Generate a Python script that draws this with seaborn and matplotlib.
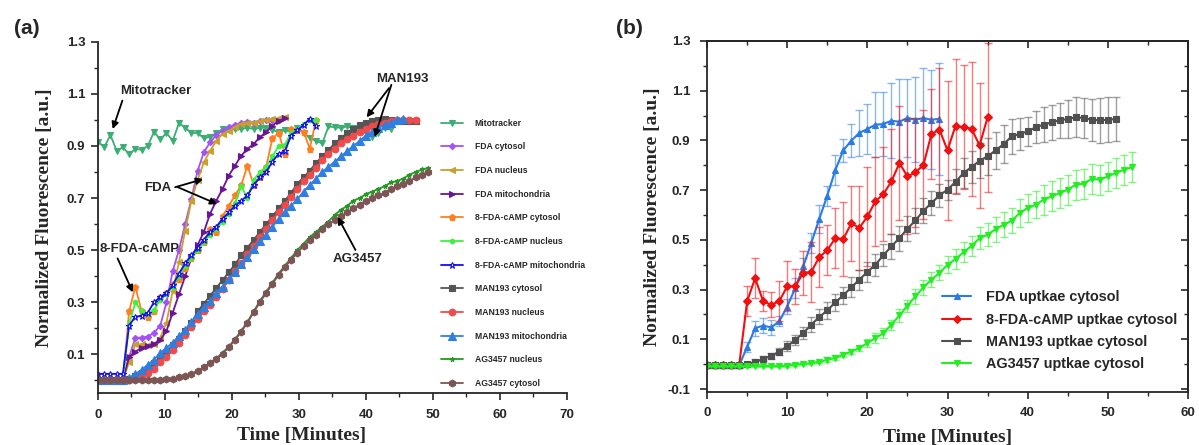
import numpy as np
import pandas as pd
import matplotlib
matplotlib.use("Agg")
import matplotlib.pyplot as plt
from matplotlib.ticker import FixedLocator
import seaborn as sns

# ---------------- data: panel (a) ----------------
LEFT_DT = 0.93  # minutes between frames in panel (a)
mitotracker = [0.917, 0.895, 0.942, 0.882, 0.895, 0.869, 0.888, 0.886, 0.90, 0.955,
               0.925, 0.95, 0.92, 0.988, 0.97, 0.95, 0.95, 0.93, 0.935, 0.95,
               0.965, 0.96, 0.965, 0.965, 0.97, 0.965, 0.97, 0.97, 0.96, 0.955,
               0.96, 0.955, 0.97, 0.95, 0.93, 0.92, 0.91, 0.975, 0.972, 0.97,
               0.975, 0.968, 0.96, 0.95, 0.935, 0.95, 0.97, 0.965]
fda_cytosol = [0, 0, 0, 0, 0, 0.09, 0.164, 0.164, 0.168, 0.183, 0.21, 0.30, 0.42, 0.50,
               0.60, 0.696, 0.805, 0.876, 0.914, 0.942, 0.959, 0.972, 0.981, 0.988,
               0.993, 0.99, 0.997, 1.0, 0.998, 1.0]
fda_nucleus = [0, 0, 0, 0, 0, 0.07, 0.138, 0.138, 0.135, 0.138, 0.164, 0.222, 0.343,
               0.453, 0.575, 0.69, 0.77, 0.837, 0.882, 0.92, 0.946, 0.956, 0.972,
               0.985, 0.99, 0.99, 0.997, 1.0, 1.003, 1.006, 1.01]
fda_mito = [0, 0, 0, 0, 0, 0.09, 0.11, 0.125, 0.133, 0.14, 0.155, 0.19, 0.26, 0.33,
            0.40, 0.47, 0.52, 0.57, 0.64, 0.69, 0.735, 0.786, 0.825, 0.863, 0.889,
            0.908, 0.934, 0.953, 0.978, 0.997, 1.006]
cfda_cytosol = [0, 0, 0, 0, 0, 0.265, 0.36, 0.265, 0.245, 0.265, 0.32, 0.335, 0.37,
                0.39, 0.43, 0.47, 0.50, 0.53, 0.58, 0.57, 0.63, 0.67, 0.71, 0.75,
                0.825, 0.75, 0.78, 0.82, 0.93, 0.95, 0.87, 0.965, 0.96, 0.955, 0.89, 1.0]
cfda_nucleus = [0, 0, 0, 0, 0, 0.215, 0.30, 0.265, 0.255, 0.27, 0.31, 0.33, 0.36, 0.40,
                0.44, 0.47, 0.50, 0.53, 0.56, 0.58, 0.61, 0.64, 0.68, 0.745, 0.70,
                0.77, 0.80, 0.82, 0.86, 0.90, 0.905, 0.95, 0.965, 0.985, 1.0, 1.0]
cfda_mito = [0.025, 0.025, 0.025, 0.025, 0.025, 0.21, 0.245, 0.247, 0.26, 0.30, 0.32,
             0.335, 0.365, 0.41, 0.45, 0.48, 0.51, 0.54, 0.57, 0.59, 0.62, 0.645,
             0.67, 0.69, 0.71, 0.75, 0.78, 0.80, 0.84, 0.87, 0.88, 0.94, 0.96, 0.98,
             1.005, 0.975]
man_cytosol = [0, 0, 0, 0, 0, 0.005, 0.015, 0.03, 0.045, 0.065, 0.09, 0.11, 0.135, 0.16,
               0.19, 0.22, 0.265, 0.295, 0.325, 0.355, 0.385, 0.415, 0.445, 0.48, 0.51,
               0.54, 0.57, 0.60, 0.63, 0.66, 0.69, 0.72, 0.755, 0.78, 0.805, 0.835,
               0.86, 0.885, 0.91, 0.93, 0.95, 0.965, 0.98, 0.99, 0.995, 1.0, 1.005,
               1.0, 0.995, 0.995, 0.995, 0.995]
man_nucleus = [0, 0, 0, 0, 0, 0, 0.005, 0.015, 0.03, 0.045, 0.07, 0.09, 0.115, 0.145,
               0.175, 0.205, 0.235, 0.265, 0.29, 0.32, 0.35, 0.385, 0.42, 0.45, 0.485,
               0.515, 0.55, 0.58, 0.615, 0.645, 0.675, 0.705, 0.735, 0.765, 0.79,
               0.815, 0.845, 0.87, 0.89, 0.91, 0.925, 0.94, 0.955, 0.965, 0.975,
               0.985, 0.99, 0.995, 1.0, 1.0, 1.0, 1.0]
man_mito = [0, 0, 0, 0, 0, 0.01, 0.025, 0.04, 0.06, 0.08, 0.105, 0.125, 0.145, 0.17,
            0.195, 0.225, 0.255, 0.28, 0.305, 0.335, 0.36, 0.39, 0.415, 0.445, 0.475,
            0.505, 0.535, 0.56, 0.59, 0.62, 0.645, 0.67, 0.695, 0.725, 0.75, 0.775,
            0.80, 0.82, 0.84, 0.86, 0.88, 0.90, 0.92, 0.94, 0.955, 0.97, 0.98, 0.99,
            1.0, 1.005]
ag_nucleus = [0, 0, 0, 0, 0, 0, 0, 0, 0, 0, 0.003, 0.005, 0.007, 0.011, 0.017, 0.025,
              0.036, 0.05, 0.068, 0.085, 0.106, 0.13, 0.158, 0.19, 0.225, 0.265, 0.305,
              0.34, 0.375, 0.41, 0.44, 0.47, 0.50, 0.525, 0.55, 0.57, 0.59, 0.61,
              0.635, 0.655, 0.67, 0.69, 0.70, 0.715, 0.725, 0.735, 0.745, 0.76,
              0.765, 0.775, 0.79, 0.80, 0.81, 0.815]
ag_cytosol = [0, 0, 0, 0, 0, 0, 0, 0, 0, 0, 0.003, 0.005, 0.007, 0.011, 0.017, 0.025,
              0.036, 0.05, 0.066, 0.083, 0.103, 0.127, 0.155, 0.187, 0.222, 0.262,
              0.30, 0.335, 0.37, 0.405, 0.435, 0.463, 0.49, 0.515, 0.538, 0.56, 0.58,
              0.60, 0.615, 0.63, 0.645, 0.66, 0.675, 0.69, 0.70, 0.71, 0.72, 0.735,
              0.745, 0.755, 0.765, 0.78, 0.79, 0.80]

# ---------------- data: panel (b) ----------------
fda_up = [-0.005, -0.005, -0.005, -0.005, -0.005, 0.069, 0.145, 0.155, 0.148, 0.172,
          0.232, 0.306, 0.393, 0.487, 0.584, 0.678, 0.78, 0.86, 0.899, 0.93, 0.946,
          0.963, 0.966, 0.979, 0.975, 0.991, 0.983, 0.99, 0.983, 0.987]
fda_up_err = [0.01, 0.01, 0.01, 0.01, 0.01, 0.02, 0.03, 0.03, 0.03, 0.02, 0.03, 0.04,
              0.035, 0.04, 0.055, 0.04, 0.06, 0.045, 0.067, 0.094, 0.10, 0.13, 0.13,
              0.15, 0.17, 0.156, 0.17, 0.20, 0.20, 0.225]
cfda_up = [-0.005, -0.005, -0.005, -0.005, -0.005, 0.253, 0.346, 0.253, 0.239, 0.253,
           0.313, 0.313, 0.367, 0.371, 0.431, 0.458, 0.507, 0.503, 0.567, 0.548, 0.594,
           0.655, 0.684, 0.735, 0.809, 0.755, 0.771, 0.802, 0.926, 0.943, 0.86, 0.959,
           0.953, 0.947, 0.88, 0.993]
cfda_up_err = [0.01, 0.01, 0.01, 0.01, 0.01, 0.06, 0.08, 0.04, 0.05, 0.08, 0.10, 0.07,
               0.09, 0.12, 0.12, 0.10, 0.12, 0.15, 0.15, 0.17, 0.20, 0.18, 0.19, 0.21,
               0.23, 0.23, 0.22, 0.22, 0.18, 0.25, 0.28, 0.27, 0.25, 0.27, 0.25, 0.30]
man_up = [-0.005, -0.005, -0.005, -0.005, -0.005, 0.001, 0.009, 0.021, 0.034, 0.05,
          0.072, 0.098, 0.125, 0.159, 0.19, 0.216, 0.249, 0.277, 0.309, 0.34, 0.371,
          0.40, 0.438, 0.474, 0.507, 0.545, 0.578, 0.617, 0.648, 0.679, 0.702, 0.733,
          0.769, 0.793, 0.818, 0.836, 0.86, 0.885, 0.916, 0.926, 0.936, 0.953, 0.963,
          0.973, 0.981, 0.986, 0.993, 0.99, 0.983, 0.981, 0.983, 0.986]
man_up_err = [0.005, 0.005, 0.005, 0.005, 0.005, 0.005, 0.01, 0.01, 0.012, 0.015,
              0.02, 0.02, 0.025, 0.03, 0.03, 0.035, 0.035, 0.035, 0.04, 0.04, 0.04,
              0.045, 0.045, 0.05, 0.05, 0.05, 0.05, 0.05, 0.05, 0.045, 0.04, 0.05,
              0.06, 0.065, 0.07, 0.075, 0.075, 0.075, 0.07, 0.065, 0.06, 0.065, 0.07,
              0.07, 0.07, 0.075, 0.08, 0.08, 0.085, 0.09, 0.09, 0.09]
ag_up = [-0.008, -0.008, -0.008, -0.008, -0.008, -0.008, -0.008, -0.008, -0.008, -0.008,
         -0.006, -0.002, 0.001, 0.004, 0.009, 0.018, 0.025, 0.038, 0.051, 0.065, 0.085,
         0.105, 0.125, 0.159, 0.196, 0.235, 0.273, 0.309, 0.34, 0.367, 0.40, 0.423,
         0.45, 0.476, 0.507, 0.521, 0.543, 0.561, 0.577, 0.608, 0.628, 0.641, 0.662,
         0.675, 0.688, 0.702, 0.722, 0.726, 0.746, 0.742, 0.755, 0.769, 0.782, 0.792]
ag_up_err = [0.005, 0.005, 0.005, 0.005, 0.005, 0.005, 0.005, 0.005, 0.005, 0.005,
             0.005, 0.005, 0.005, 0.005, 0.005, 0.01, 0.01, 0.01, 0.01, 0.01, 0.015,
             0.02, 0.02, 0.02, 0.025, 0.025, 0.03, 0.03, 0.03, 0.03, 0.035, 0.04, 0.04,
             0.04, 0.045, 0.045, 0.05, 0.05, 0.05, 0.055, 0.055, 0.055, 0.06, 0.06,
             0.06, 0.06, 0.06, 0.06, 0.06, 0.06, 0.06, 0.06, 0.06, 0.06]

left_series = [
    ("Mitotracker", mitotracker, "#3CAE74", "v", 4.5, None),
    ("FDA cytosol", fda_cytosol, "#A452F5", "D", 3.2, None),
    ("FDA nucleus", fda_nucleus, "#C9A02C", "<", 4.0, None),
    ("FDA mitochondria", fda_mito, "#6A1596", ">", 4.0, None),
    ("8-FDA-cAMP cytosol", cfda_cytosol, "#FF7F20", "p", 4.5, None),
    ("8-FDA-cAMP nucleus", cfda_nucleus, "#3CF23C", "h", 3.5, None),
    ("8-FDA-cAMP mitochondria", cfda_mito, "#1010F0", "*", 5.0, "white"),
    ("MAN193 cytosol", man_cytosol, "#555555", "s", 4.5, None),
    ("MAN193 nucleus", man_nucleus, "#F04A4A", "o", 4.8, None),
    ("MAN193 mitochondria", man_mito, "#2F7FE0", "^", 5.2, None),
    ("AG3457 nucleus", ag_nucleus, "#229A22", "*", 3.5, None),
    ("AG3457 cytosol", ag_cytosol, "#7D5555", "h", 5.0, None),
]
right_series = [
    ("FDA uptkae cytosol", fda_up, fda_up_err, "#2C7BE5", "^", 4.5),
    ("8-FDA-cAMP uptkae cytosol", cfda_up, cfda_up_err, "#F01010", "D", 3.6),
    ("MAN193 uptkae cytosol", man_up, man_up_err, "#505050", "s", 4.0),
    ("AG3457 uptkae cytosol", ag_up, ag_up_err, "#22EE22", "v", 4.5),
]

sns.set_style("ticks")
plt.rcParams["font.family"] = ["Liberation Sans", "DejaVu Sans"]
plt.rcParams["font.weight"] = "bold"

fig = plt.figure(figsize=(11.99, 4.45), dpi=100)
axL = fig.add_axes([0.0817, 0.116, 0.3911, 0.790])
axR = fig.add_axes([0.5897, 0.119, 0.4011, 0.789])

# ---- panel (a)
for name, vals, col, mk, ms, mfc in left_series:
    df = pd.DataFrame({"t": np.arange(len(vals)) * LEFT_DT, "v": vals})
    kw = dict(marker=mk, markersize=ms, markeredgecolor=col, markeredgewidth=0.8,
              color=col, linewidth=1.3, label=name)
    if mfc:
        kw["markerfacecolor"] = mfc
    sns.lineplot(data=df, x="t", y="v", ax=axL, **kw)

axL.set_xlim(0, 70)
axL.set_ylim(-0.05, 1.3)
axL.set_xticks(np.arange(0, 71, 10))
axL.set_xticks(np.arange(5, 70, 10), minor=True)
axL.set_yticks([0.1, 0.3, 0.5, 0.7, 0.9, 1.1, 1.3])
axL.set_yticks([0.0, 0.2, 0.4, 0.6, 0.8, 1.0, 1.2], minor=True)
axL.set_yticklabels(["0.1", "0.3", "0.5", "0.7", "0.9", "1.1", "1.3"])
for s in ["top", "right"]:
    axL.spines[s].set_visible(False)

axL.legend(loc="upper left", bbox_to_anchor=(0.731, 0.781), frameon=False,
           prop={"family": "Liberation Sans", "weight": "bold", "size": 6.2},
           labelspacing=1.70, handlelength=2.55, handletextpad=1.4,
           borderaxespad=0, borderpad=0)

ann = dict(fontsize=9.5, fontweight="bold", ha="center", va="center")
arr = dict(arrowstyle="-|>", color="black", lw=1.3, mutation_scale=10, shrinkA=0, shrinkB=0)
axL.annotate("Mitotracker", xy=(2.2, 0.965), xytext=(8.6, 1.11), arrowprops=dict(arr, relpos=(0.05, 0.0)), **ann)
axL.annotate("FDA", xy=(15.7, 0.773), xytext=(9.0, 0.738), arrowprops=dict(arr, relpos=(1.0, 0.5)), **ann)
axL.annotate("", xy=(17.8, 0.677), xytext=(11.9, 0.742), arrowprops=arr)
axL.annotate("8-FDA-cAMP", xy=(5.2, 0.338), xytext=(6.3, 0.504), arrowprops=dict(arr, relpos=(0.2, 0.0)), **ann)
axL.annotate("MAN193", xy=(40.1, 1.01), xytext=(45.4, 1.158), arrowprops=dict(arr, relpos=(0.3, 0.0)), **ann)
axL.annotate("", xy=(41.3, 0.935), xytext=(43.8, 1.135), arrowprops=arr)
axL.annotate("AG3457", xy=(35.8, 0.627), xytext=(38.7, 0.465), arrowprops=dict(arr, relpos=(0.5, 1.0)), **ann)

# ---- panel (b)
for name, vals, err, col, mk, ms in right_series:
    t = np.arange(len(vals))
    axR.errorbar(t, vals, yerr=err, fmt="none", ecolor=col, alpha=0.55,
                 elinewidth=1.0, capsize=3, capthick=1.0)
    df = pd.DataFrame({"t": t, "v": vals})
    sns.lineplot(data=df, x="t", y="v", ax=axR, marker=mk, markersize=ms,
                 markeredgecolor=col, markeredgewidth=0.8, color=col,
                 linewidth=1.5, label=name)

axR.set_xlim(0, 60)
axR.set_ylim(-0.112, 1.3)
xmaj, xmin = np.arange(0, 61, 10), np.arange(5, 60, 10)
ymaj = [-0.1, 0.1, 0.3, 0.5, 0.7, 0.9, 1.1, 1.3]
ymin = [0.0, 0.2, 0.4, 0.6, 0.8, 1.0, 1.2]
axR.set_xticks(xmaj)
axR.set_xticks(xmin, minor=True)
axR.set_yticks(ymaj)
axR.set_yticks(ymin, minor=True)
axR.set_yticklabels(["-0.1", "0.1", "0.3", "0.5", "0.7", "0.9", "1.1", "1.3"])
axR.legend(loc="upper left", bbox_to_anchor=(0.489, 0.29), frameon=False,
           prop={"family": "Liberation Sans", "weight": "bold", "size": 10.4},
           labelspacing=0.58, handlelength=2.0, handletextpad=1.0,
           borderaxespad=0, borderpad=0)

# mirrored ticks pointing inward on top/right of panel (b)
secx = axR.secondary_xaxis("top")
secx.set_xticks(xmaj)
secx.xaxis.set_minor_locator(FixedLocator(xmin))
secx.tick_params(which="major", direction="in", length=5, width=1.2, labeltop=False)
secx.tick_params(which="minor", direction="in", length=3, width=1.0)
secy = axR.secondary_yaxis("right")
secy.set_yticks(ymaj)
secy.yaxis.set_minor_locator(FixedLocator(ymin))
secy.tick_params(which="major", direction="in", length=5, width=1.2, labelright=False)
secy.tick_params(which="minor", direction="in", length=3, width=1.0)
for sec in (secx, secy):
    for s in sec.spines.values():
        s.set_linewidth(1.3)

for ax, ypad, ylp in [(axL, 4, 10), (axR, 7, 5)]:
    ax.tick_params(which="major", direction="out", length=5, width=1.2,
                   top=False, right=False, labelsize=9.5)
    ax.tick_params(axis="x", which="major", pad=6)
    ax.tick_params(axis="y", which="major", pad=ypad)
    ax.tick_params(which="minor", direction="out", length=3, width=1.0,
                   top=False, right=False)
    for lab in ax.get_xticklabels() + ax.get_yticklabels():
        lab.set_fontweight("bold")
    for s in ax.spines.values():
        s.set_linewidth(1.3)
    ax.set_xlabel("Time [Minutes]", fontsize=14, fontweight="bold",
                  family=["Liberation Serif", "DejaVu Serif"], labelpad=7)
    ax.set_ylabel("Normalized Fluorescence [a.u.]", fontsize=14, fontweight="bold",
                  family=["Liberation Serif", "DejaVu Serif"], labelpad=ylp)

axL.xaxis.set_label_coords(0.435, -0.095)

fig.text(0.0225, 0.937, "(a)", fontsize=15, fontweight="bold", ha="center", va="center")
fig.text(0.525, 0.937, "(b)", fontsize=15, fontweight="bold", ha="center", va="center")

fig.savefig("out.png", dpi=100)
